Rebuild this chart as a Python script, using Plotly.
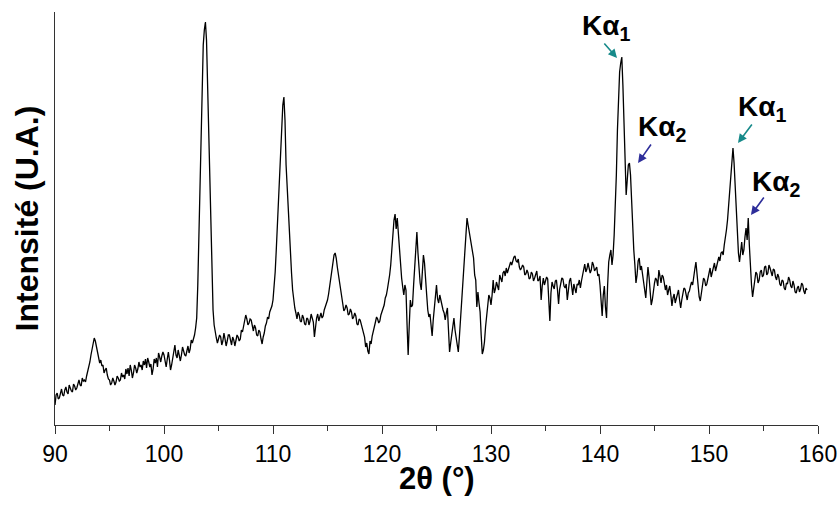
import numpy as np
import plotly.graph_objects as go

# 2theta grid: 90.0 to 159.0 by 0.1 deg
theta_start = 90.0
theta_step = 0.1

# Intensity (arbitrary units), 20 values per 2 degrees
intensity = [
    20, 30, 32, 26, 27, 33, 36, 30, 29, 35, 38, 33, 31, 40, 36, 34, 33, 41, 39, 35,            # 90
    37, 41, 45, 40, 39, 47, 44, 45, 43, 49, 53, 58, 63, 70, 77, 83, 87, 84, 79, 73,            # 92
    69, 62, 65, 59, 60, 52, 55, 57, 50, 46, 45, 40, 42, 47, 44, 40, 43, 49, 47, 44,            # 94
    45, 52, 48, 50, 46, 56, 51, 57, 49, 60, 55, 47, 52, 60, 57, 52, 56, 63, 58, 60,            # 96
    55, 64, 60, 66, 57, 67, 63, 58, 61, 50, 56, 66, 62, 67, 58, 72, 68, 63, 69, 73,            # 98
    70, 64, 58, 66, 73, 65, 55, 60, 68, 74, 80, 70, 67, 75, 69, 64, 70, 78, 74, 70,            # 100
    69, 76, 79, 72, 76, 85, 82, 86, 90, 97, 107, 140, 190, 245, 300, 345, 380, 395, 403, 385,  # 102
    340, 280, 220, 175, 140, 115, 100, 92, 87, 82, 85, 90, 88, 80, 84, 92, 86, 79, 84, 90,     # 104
    90, 83, 80, 88, 85, 79, 84, 90, 88, 84, 86, 95, 93, 100, 104, 110, 106, 100, 102, 106,     # 106
    105, 98, 94, 100, 97, 90, 89, 95, 93, 86, 81, 88, 92, 99, 102, 108, 106, 113, 116, 119,    # 108
    125, 138, 153, 175, 200, 225, 250, 278, 300, 320, 328, 305, 260, 235, 213, 192, 173, 152, 135, 122,  # 110
    117, 112, 106, 113, 110, 104, 103, 110, 107, 101, 100, 107, 106, 100, 104, 111, 108, 103, 88, 99,    # 112
    107, 111, 104, 108, 112, 107, 109, 115, 118, 121, 125, 131, 138, 145, 153, 162, 170, 172, 167, 158, # 114
    150, 144, 138, 128, 121, 114, 116, 120, 117, 110, 111, 116, 113, 106, 108, 112, 109, 101, 100, 106, # 116
    105, 100, 96, 91, 88, 78, 82, 74, 71, 84, 81, 89, 95, 99, 103, 108, 106, 102, 104, 110,             # 118
    113, 116, 120, 127, 130, 136, 142, 150, 160, 178, 190, 205, 211, 196, 207, 190, 175, 160, 147, 138, # 120
    130, 140, 135, 100, 70, 100, 125, 118, 120, 140, 157, 180, 193, 172, 155, 142, 135, 150, 170, 162,  # 122
    150, 130, 115, 108, 111, 96, 89, 105, 120, 132, 140, 126, 122, 130, 125, 118, 115, 112, 105, 112,   # 124
    117, 95, 73, 82, 90, 100, 107, 95, 89, 80, 73, 88, 105, 118, 133, 155, 175, 195, 207, 200,          # 126
    193, 188, 180, 172, 167, 150, 145, 118, 133, 122, 113, 90, 71, 75, 83, 98, 110, 122, 130, 127,      # 128
    120, 130, 145, 132, 136, 143, 140, 135, 150, 146, 143, 152, 154, 149, 157, 152, 155, 158, 163, 160, # 130
    165, 168, 169, 164, 163, 166, 158, 155, 157, 160, 158, 150, 151, 155, 152, 146, 147, 153, 151, 144, # 132
    147, 152, 154, 144, 145, 149, 125, 139, 147, 140, 143, 148, 146, 128, 104, 132, 143, 139, 136, 144, # 134
    145, 135, 121, 136, 141, 147, 146, 139, 137, 141, 125, 135, 144, 147, 139, 130, 141, 137, 132, 141, # 136
    140, 145, 137, 144, 150, 155, 161, 153, 156, 162, 158, 152, 155, 163, 160, 154, 156, 158, 149, 151, # 138
    140, 120, 109, 130, 139, 118, 107, 140, 163, 170, 175, 160, 170, 190, 213, 250, 295, 330, 353, 362, # 140
    368, 340, 295, 255, 230, 245, 260, 262, 250, 225, 195, 175, 160, 142, 150, 164, 167, 155, 159, 150, # 142
    145, 136, 127, 143, 158, 148, 136, 120, 125, 135, 142, 147, 145, 139, 155, 149, 142, 150, 148, 142, # 144
    135, 140, 130, 135, 139, 130, 119, 127, 131, 122, 126, 132, 135, 125, 117, 125, 130, 137, 136, 131, # 146
    125, 132, 134, 139, 143, 140, 150, 156, 163, 149, 137, 128, 124, 133, 140, 147, 145, 139, 141, 147, # 148
    153, 157, 148, 152, 156, 162, 154, 159, 163, 168, 164, 172, 173, 170, 180, 186, 195, 205, 220, 238, # 150
    255, 268, 277, 262, 237, 215, 190, 172, 163, 178, 183, 170, 175, 188, 197, 185, 207, 180, 153, 140, # 152
    128, 137, 145, 153, 151, 142, 145, 153, 155, 148, 150, 158, 159, 150, 152, 160, 157, 151, 149, 156, # 154
    155, 148, 145, 151, 148, 141, 139, 145, 144, 137, 135, 142, 141, 148, 145, 139, 137, 144, 140, 133, # 156
    132, 137, 139, 133, 136, 142, 140, 134, 131, 137, 135,                                              # 158
]
two_theta = np.round(theta_start + theta_step * np.arange(len(intensity)), 2)

x_ticks = [90, 100, 110, 120, 130, 140, 150, 160]
x_tick_text = ["90", "100", "110", "120", "130", "140", "150", "160"]
x_title = "2θ (°)"
y_title = "Intensité (U.A.)"

# Annotations: label text and positions (data coords)
label_texts = ["Kα<sub>1</sub>", "Kα<sub>2</sub>", "Kα<sub>1</sub>", "Kα<sub>2</sub>"]
label_x = [140.55, 145.69, 154.86, 156.15]
label_y = [398, 297, 317, 242]
arrow_x = [141.56, 143.49, 152.66, 153.85]
arrow_y = [367, 262, 282, 210]
arrow_ax = [-14, 14, 15, 14]
arrow_ay = [-16, -20, -20, -19]
arrow_colors = ["#178a8a", "#2e2e9a", "#178a8a", "#2e2e9a"]

FONT = "Liberation Sans, Arial, sans-serif"

fig = go.Figure()
fig.add_trace(go.Scatter(
    x=two_theta, y=intensity, mode="lines",
    line=dict(color="black", width=1.3),
    showlegend=False, hoverinfo="skip",
))

annotations = []
for t, lx, ly in zip(label_texts, label_x, label_y):
    annotations.append(dict(
        x=lx, y=ly, xref="x", yref="y", text="<b>" + t + "</b>",
        showarrow=False, font=dict(family=FONT, size=28, color="black"),
        xanchor="center", yanchor="middle",
    ))
for hx, hy, ax, ay, c in zip(arrow_x, arrow_y, arrow_ax, arrow_ay, arrow_colors):
    annotations.append(dict(
        x=hx, y=hy, xref="x", yref="y", text="", showarrow=True,
        ax=ax, ay=ay, axref="pixel", ayref="pixel",
        arrowhead=2, arrowsize=1.1, arrowwidth=1.6, arrowcolor=c,
    ))
# x-axis title placed as annotation (just below the tick labels)
annotations.append(dict(
    x=0.5, y=-0.13, xref="paper", yref="paper", text="<b>" + x_title + "</b>",
    showarrow=False, font=dict(family=FONT, size=31, color="black"),
    xanchor="center", yanchor="middle",
))

fig.update_layout(
    width=839, height=508,
    margin=dict(l=55, r=21, t=12, b=83),
    paper_bgcolor="white", plot_bgcolor="white",
    font=dict(family=FONT, color="black"),
    annotations=annotations,
    xaxis=dict(
        range=[90, 160], tickvals=x_ticks, ticktext=x_tick_text,
        ticks="outside", ticklen=8, tickcolor="#333", tickwidth=1,
        minor=dict(dtick=5, ticks="outside", ticklen=5, tickcolor="#333"),
        showline=True, linecolor="#333", linewidth=1, showgrid=False,
        zeroline=False, automargin=False,
        tickfont=dict(size=23, family=FONT, color="black"),
    ),
    yaxis=dict(
        range=[0, 413], showticklabels=False, ticks="", showgrid=False,
        showline=True, linecolor="#333", linewidth=1, zeroline=False,
        automargin=False,
        title=dict(text="<b>" + y_title + "</b>", font=dict(size=32, family=FONT, color="black"), standoff=5),
    ),
)

fig.write_html("out.html", config={"displayModeBar": False},
               post_script="document.body.style.margin='0';")
